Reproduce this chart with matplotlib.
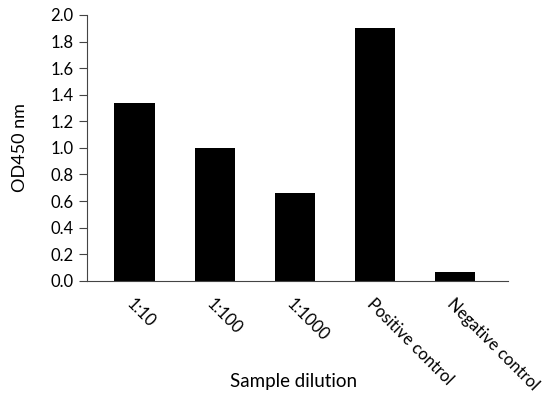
import numpy as np
import matplotlib
matplotlib.use("Agg")
import matplotlib.pyplot as plt

plt.rcParams['font.family'] = ['Lato', 'DejaVu Sans']

categories = ["1:10", "1:100", "1:1000", "Positive control", "Negative control"]
od450 = [1.34, 1.00, 0.66, 1.90, 0.07]
y_ticks = [0.0, 0.2, 0.4, 0.6, 0.8, 1.0, 1.2, 1.4, 1.6, 1.8, 2.0]

fig = plt.figure(figsize=(5.52, 4.03), dpi=100)
ax = fig.add_axes([0.158, 0.303, 0.762, 0.660])

x = np.arange(len(categories))
ax.bar(x, od450, width=0.5, color="black")

ax.set_xlim(-0.59, 4.66)
ax.set_ylim(0, 2.0)
ax.set_yticks(y_ticks)
ax.set_yticklabels(["%.1f" % v for v in y_ticks], fontsize=12)
ax.set_xticks(x)
ax.set_xticklabels(categories, rotation=-45, ha="left", va="top",
                   rotation_mode="anchor", fontsize=12)
ax.tick_params(axis="x", length=0, pad=11)
ax.tick_params(axis="y", length=6, width=0.8, color="#444444", pad=4)

for s in ["top", "right"]:
    ax.spines[s].set_visible(False)
ax.spines["left"].set_color("#444444")
ax.spines["bottom"].set_color("#444444")
ax.spines["left"].set_linewidth(0.8)
ax.spines["bottom"].set_linewidth(0.8)

ax.set_ylabel("OD450 nm", fontsize=13)
ax.yaxis.set_label_coords(-0.14, 0.5)
ax.set_xlabel("Sample dilution", fontsize=13.5, va="center")
ax.xaxis.set_label_coords(0.49, -0.38)

fig.savefig("out.png", dpi=100)
